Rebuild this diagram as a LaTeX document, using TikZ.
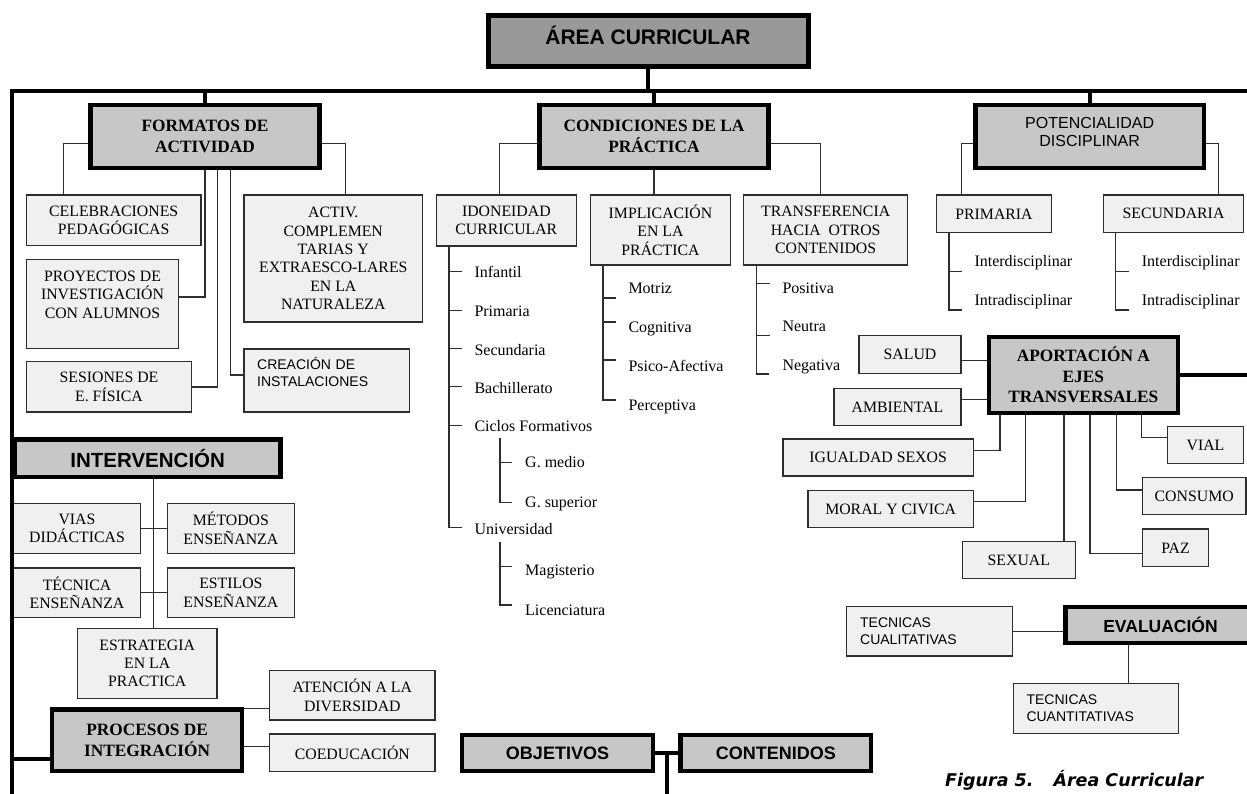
\documentclass[tikz,border=0pt]{standalone}
\usepackage{fontspec}
\setmainfont{Liberation Serif}
\setsansfont{Liberation Sans}
\newfontfamily\capfont{DejaVu Sans}
\usetikzlibrary{calc}
\pgfdeclarelayer{bg}
\pgfsetlayers{bg,main}

\definecolor{areafill}{gray}{0.60}
\definecolor{hdrfill}{gray}{0.78}
\definecolor{leaffill}{gray}{0.94}
\definecolor{edge}{gray}{0.18}

\newcommand\leaffont{\fontsize{15.8}{18.4}\selectfont}
\newcommand\itemfont{\fontsize{16}{18.4}\selectfont}
\newcommand\leafsans{\sffamily\fontsize{14}{16.7}\selectfont}
\newcommand\hdrserif{\bfseries\fontsize{17.3}{20.7}\selectfont}
\newcommand\hdrsans{\sffamily\bfseries\fontsize{18}{21}\selectfont}

% box given by its outer corners (x1,y1) (x2,y2)
\newcommand\bx[7]{\node[#2, minimum width={#5-#3-1.3}, minimum height={#6-#4-1.3}] (#1) at ({(#3+#5)/2},{(#4+#6)/2}) {#7};}
\newcommand\hb[7]{\node[#2, minimum width={#5-#3-4.3}, minimum height={#6-#4-4.3}] (#1) at ({(#3+#5)/2},{(#4+#6)/2}) {#7};}
% list entry and its tick
\newcommand\itm[4]{\node[item] (#1) at (#2,#3) {#4};}
\newcommand\tick[2]{\draw[conn] ($(#1.west)+(-25.3,#2)$) -- ++(12.7,0);}

\begin{document}
\begin{tikzpicture}[x=1pt,y=-1pt,
  boxbase/.style={inner sep=0pt, outer sep=0pt, align=center},
  leaf/.style={boxbase, draw=edge, fill=leaffill, line width=1.3pt, font=\leaffont},
  sansleaf/.style={leaf, font=\leafsans, align=left, text width=139pt, inner xsep=13pt},
  hdr/.style={boxbase, draw=black, fill=hdrfill, line width=4.3pt, font=\hdrserif},
  hdrs/.style={hdr, font=\hdrsans},
  item/.style={inner sep=0pt, anchor=west, font=\itemfont, text height=10.5pt, text depth=0pt},
  conn/.style={draw=edge, line width=1.3pt},
  heavy/.style={draw=black, line width=4.3pt, line join=miter}]
\useasboundingbox (0,0) rectangle (1247,793);
\clip (0,0) rectangle (1247,793);

% ---------- main header ----------
\node[hdr, fill=areafill, line width=5pt, font=\sffamily\bfseries\fontsize{21}{24}\selectfont,
      text height=15.1pt, text depth=8pt,
      minimum width=320pt, minimum height=51pt] (area) at (648,40.7) {ÁREA CURRICULAR};

% ---------- formatos de actividad ----------
\hb{fmt}{hdr}{88.3}{102.7}{321.7}{170}{FORMATOS DE\\ACTIVIDAD}
\bx{celeb}{leaf}{25.7}{194.3}{201.7}{246}{CELEBRACIONES\\PEDAGÓGICAS}
\bx{proy}{leaf}{25.7}{258.7}{179.3}{349}{PROYECTOS DE\\INVESTIGACIÓN\\CON ALUMNOS\\\mbox{}}
\bx{ses}{leaf}{25.7}{361}{192.3}{412.7}{SESIONES DE\\E. FÍSICA}
\bx{activ}{leaf}{243.3}{194.3}{423.3}{322.7}{ACTIV.\\COMPLEMEN\\TARIAS Y\\EXTRAESCO-LARES\\EN LA\\NATURALEZA}
\bx{crea}{sansleaf}{243.3}{348.3}{410}{412.7}{CREACIÓN DE\\INSTALACIONES\\\mbox{}}

% ---------- condiciones de la práctica ----------
\hb{cond}{hdr}{537.3}{102.7}{770.7}{170}{CONDICIONES DE LA\\PRÁCTICA}
\bx{ido}{leaf}{435.7}{194.3}{577}{246.7}{IDONEIDAD\\CURRICULAR}
\bx{impl}{leaf}{589.7}{194.3}{731.3}{265.7}{IMPLICACIÓN\\EN LA\\PRÁCTICA}
\bx{trans}{leaf}{743}{194.3}{908.3}{265.7}{TRANSFERENCIA\\HACIA~~OTROS\\CONTENIDOS}

\itm{inf}{474.3}{272.7}{Infantil}
\itm{pri}{474.3}{311.7}{Primaria}
\itm{secu}{474.3}{350}{Secundaria}
\itm{bach}{474.3}{388.3}{Bachillerato}
\itm{cic}{474.3}{426.7}{Ciclos Formativos}
\itm{gmed}{525}{462.7}{G. medio}
\itm{gsup}{525}{502.7}{G. superior}
\itm{uni}{474.3}{529.3}{Universidad}
\itm{mag}{525}{570.7}{Magisterio}
\itm{lic}{525}{610}{Licenciatura}

\itm{mot}{628.3}{288}{Motriz}
\itm{cog}{628.3}{327}{Cognitiva}
\itm{psi}{628.3}{366}{Psico-Afectiva}
\itm{per}{628.3}{405}{Perceptiva}

\itm{pos}{782.3}{288.3}{Positiva}
\itm{neu}{782.3}{326.7}{Neutra}
\itm{neg}{782.3}{365}{Negativa}

% ---------- potencialidad disciplinar ----------
\hb{pot}{hdr, font=\sffamily\fontsize{16}{18.3}\selectfont}{973.3}{102.7}{1206}{170}{POTENCIALIDAD\\DISCIPLINAR\\[-10pt]\mbox{}}
\bx{prim}{leaf}{936}{194.3}{1052}{233.3}{PRIMARIA}
\bx{sec}{leaf}{1102.7}{194.3}{1244.3}{233.3}{SECUNDARIA}
\itm{pint}{974.3}{261.7}{Interdisciplinar}
\itm{pintra}{974.3}{300.7}{Intradisciplinar}
\itm{sint}{1141.7}{261.7}{Interdisciplinar}
\itm{sintra}{1141.7}{300.7}{Intradisciplinar}

% ---------- aportación a ejes transversales ----------
\hb{apo}{hdr}{986.7}{335}{1180}{415}{APORTACIÓN A\\EJES\\TRANSVERSALES}
\bx{salud}{leaf}{858.3}{335}{961.7}{374}{SALUD}
\bx{amb}{leaf}{833.3}{387.7}{961.7}{426}{AMBIENTAL}
\bx{igu}{leaf}{782.3}{438.3}{974}{476.7}{IGUALDAD SEXOS}
\bx{mor}{leaf}{807.3}{490}{974}{528.3}{MORAL Y CIVICA}
\bx{sex}{leaf}{961.7}{540.7}{1076}{579.3}{SEXUAL}
\bx{paz}{leaf}{1141.7}{528.3}{1209.3}{567.3}{PAZ}
\bx{con}{leaf}{1141.7}{476.7}{1246.7}{515}{CONSUMO}
\bx{vial}{leaf}{1166.7}{426}{1244.3}{464.3}{VIAL}

% ---------- evaluación ----------
\hb{eva}{hdrs, font=\sffamily\bfseries\fontsize{17.5}{20}\selectfont}{1063.3}{605}{1257.7}{645}{EVALUACIÓN}
\bx{cual}{sansleaf}{846}{605.7}{1013.3}{656.7}{TECNICAS\\CUALITATIVAS}
\bx{cuan}{sansleaf}{1012.7}{682.7}{1179.3}{734}{TECNICAS\\CUANTITATIVAS}

% ---------- intervención ----------
\hb{int}{hdrs, font=\sffamily\bfseries\fontsize{20.5}{23}\selectfont}{12.7}{437.3}{282.7}{479}{INTERVENCIÓN}
\bx{vias}{leaf}{12.7}{502.7}{141.3}{554}{VIAS\\DIDÁCTICAS}
\bx{met}{leaf}{166.7}{502.7}{295}{554}{MÉTODOS\\ENSEÑANZA}
\bx{tec}{leaf}{12.7}{567.3}{141.3}{618.3}{TÉCNICA\\ENSEÑANZA}
\bx{est}{leaf}{166.7}{567.3}{295}{618.3}{ESTILOS\\ENSEÑANZA}
\bx{estr}{leaf}{76.7}{627.7}{217.7}{699}{ESTRATEGIA\\EN LA\\PRACTICA}

% ---------- procesos de integración ----------
\hb{proc}{hdr}{50}{707.3}{244.3}{773.3}{PROCESOS DE\\INTEGRACIÓN}
\bx{aten}{leaf}{269}{670}{435.7}{720.7}{ATENCIÓN A LA\\DIVERSIDAD}
\bx{coed}{leaf}{269}{733.3}{435.7}{772.3}{COEDUCACIÓN}

% ---------- objetivos / contenidos ----------
\hb{obj}{hdrs}{460}{732.7}{655}{773.3}{OBJETIVOS}
\hb{cont}{hdrs}{678.3}{732.7}{873.3}{773.3}{CONTENIDOS}

% ---------- caption ----------
\node[anchor=base west, inner sep=0pt, font=\capfont\bfseries\itshape\fontsize{17.5}{20}\selectfont]
  (cap) at (945,786) {Figura 5.\hspace{20pt}Área Curricular};

% ---------- connectors ----------
\coordinate (bar) at (0,91);
\coordinate (procJ) at (12.3,759.3);
\coordinate (objJ) at (666.7,800);
\coordinate (idoT) at ($(inf.west)+(-25.3,0)$);
\coordinate (cicT) at ($(gmed.west)+(-25,0)$);
\coordinate (uniT) at ($(mag.west)+(-25,0)$);
\coordinate (implT) at ($(mot.west)+(-25.3,0)$);
\coordinate (transT) at ($(pos.west)+(-25.6,0)$);
\coordinate (primT) at ($(pint.west)+(-25.3,0)$);
\coordinate (secT) at ($(sint.west)+(-26,0)$);

\begin{pgfonlayer}{bg}
  % trunk lines
  \draw[heavy] (area.south) -- (area.south |- bar);
  \foreach \n in {fmt,cond,pot} \draw[heavy] (\n.north) -- (\n.north |- bar);
  \draw[heavy] (apo.east) -- (apo.east -| 1260,0);
  \draw[heavy] (procJ) -- (procJ -| proc.west);
  \draw[heavy] (obj.east) -- (cont.west);
  \draw[heavy] (objJ) -- (objJ |- obj.east);

  % formatos de actividad
  \draw[conn] ($(fmt.west)+(0,7)$) -| (celeb.north -| 63.3,0);
  \draw[conn] ($(fmt.east)+(0,7)$) -| (activ.north -| 345.7,0);
  \draw[conn] (fmt.south) |- ($(proy.east)+(0,-7)$);
  \draw[conn] ($(fmt.south)+(12.7,0)$) |- (ses.east);
  \draw[conn] ($(fmt.south)+(25.7,0)$) |- ($(crea.west)+(0,-5.5)$);

  % condiciones de la práctica
  \draw[conn] ($(cond.west)+(0,7)$) -| (ido.north -| 499.3,0);
  \draw[conn] (cond.south) -- (cond.south |- impl.north);
  \draw[conn] ($(cond.east)+(0,7)$) -| (trans.north -| 820.7,0);

  \draw[conn] (ido.south -| idoT) |- ($(uni.west)+(-12.6,-1.5)$);
  \foreach \n in {inf,pri,secu,bach,cic} \tick{\n}{-1.5}
  \draw[conn] ($(cic.south -| cicT)+(0,6)$) |- ($(gsup.west)+(-12.6,0)$);
  \tick{gmed}{0}
  \draw[conn] ($(uni.south -| uniT)+(0,7)$) |- ($(lic.west)+(-12.6,-5)$);
  \tick{mag}{-4}

  \draw[conn] (impl.south -| implT) |- ($(per.west)+(-12.6,-5)$);
  \tick{mot}{10} \tick{cog}{-5} \tick{psi}{-6}

  \draw[conn] (trans.south -| transT) |- ($(neg.west)+(-12.9,9)$);
  \tick{pos}{-5} \tick{neu}{9}

  % potencialidad disciplinar
  \draw[conn] ($(pot.west)+(0,7)$) -| (prim.north -| 961.7,0);
  \draw[conn] ($(pot.east)+(0,7)$) -| (sec.north -| 1218.3,0);
  \draw[conn] (prim.south -| primT) |- ($(pintra.west)+(-12.6,9.3)$);
  \tick{pint}{10}
  \draw[conn] (sec.south -| secT) |- ($(sintra.west)+(-12.7,9.3)$);
  \draw[conn] ($(sint.west)+(-26,10)$) -- ++(13.3,0);

  % aportación a ejes transversales
  \draw[conn] (salud.east |- 0,360.7) -- (apo.west |- 0,360.7);
  \draw[conn] (amb.east |- 0,399.3) -- (apo.west |- 0,399.3);
  \draw[conn] (apo.south -| 1000,0) |- (igu.east |- 0,450.7);
  \draw[conn] (apo.south -| 1025.7,0) |- (mor.east |- 0,501.7);
  \draw[conn] (apo.south -| 1064,0) -- (sex.north -| 1064,0);
  \draw[conn] (apo.south -| 1090,0) |- (paz.west |- 0,553.3);
  \draw[conn] (apo.south -| 1116.7,0) |- (con.west |- 0,490);
  \draw[conn] (apo.south -| 1141.7,0) |- (vial.west |- 0,437.3);

  % evaluación
  \draw[conn] (cual.east) -- (cual.east -| eva.west);
  \draw[conn] (eva.south -| 1128.3,0) -- (cuan.north -| 1128.3,0);

  % intervención
  \draw[conn] (int.south -| 153.3,0) -- (estr.north -| 153.3,0);
  \draw[conn] (vias.east) -- (met.west);
  \draw[conn] (tec.east) -- (est.west);

  % procesos de integración
  \draw[conn] (proc.east |- 0,708.3) -- (aten.west |- 0,708.3);
  \draw[conn] (proc.east |- 0,746.7) -- (coed.west |- 0,746.7);
\end{pgfonlayer}

% outer frame line along the top and left side
\draw[heavy] (12.3,800) -- (12.3,91) -- (1260,91);
\end{tikzpicture}
\end{document}
